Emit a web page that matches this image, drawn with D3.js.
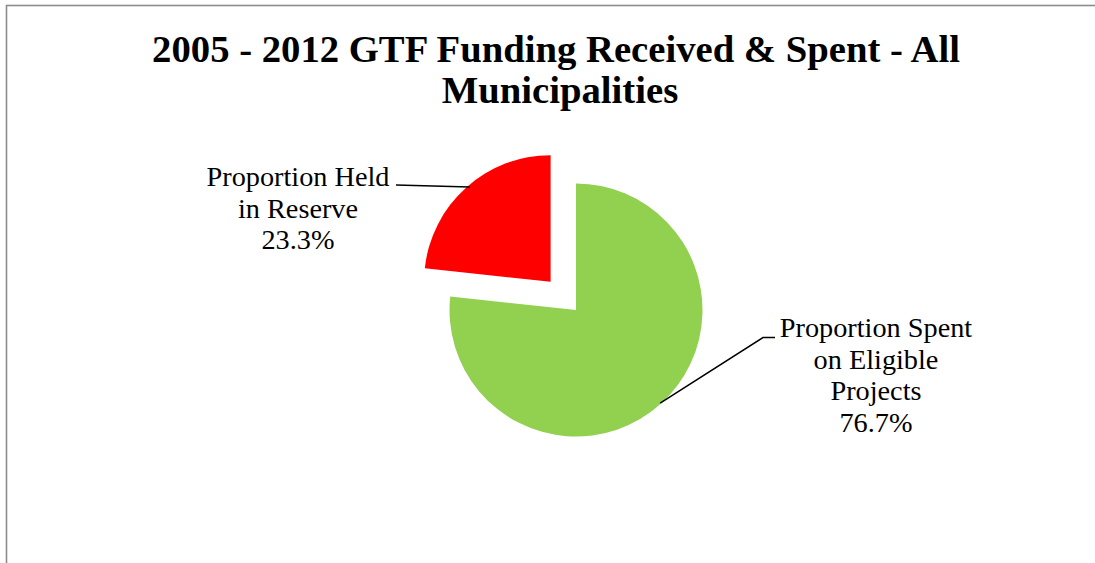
<!DOCTYPE html>
<html><head><meta charset="utf-8">
<script src="https://cdn.jsdelivr.net/npm/d3@7"></script>
<style>body{margin:0;background:#fff}svg{display:block}</style>
</head><body>
<svg id="c" width="1095" height="563"></svg>
<script>
const categories = ["Proportion Held in Reserve", "Proportion Spent on Eligible Projects"];
const values = [23.3, 76.7];
const labelLines = [["Proportion Held", "in Reserve", "23.3%"], ["Proportion Spent", "on Eligible", "Projects", "76.7%"]];
const colors = ["#FF0000", "#92D050"];
const titleLines = ["2005 - 2012 GTF Funding Received & Spent - All", "Municipalities"];

const svg = d3.select("#c");
const font = "'Liberation Serif', 'DejaVu Serif', serif";

// chart frame
svg.append("rect").attr("x", 6.5).attr("y", 5.5).attr("width", 1200).attr("height", 700)
  .attr("fill", "#fff").attr("stroke", "#8c8c8c").attr("stroke-width", 1.6);

// title
function fitText(sel, target) {
  const w = sel.node().getComputedTextLength();
  const fs = +sel.attr("font-size");
  sel.attr("font-size", fs * target / w);
}
const t1 = svg.append("text").attr("x", 556).attr("y", 62).attr("text-anchor", "middle")
  .attr("font-family", font).attr("font-weight", "bold").attr("font-size", 36).text(titleLines[0]);
fitText(t1, 808);
svg.append("text").attr("x", 560).attr("y", 103).attr("text-anchor", "middle")
  .attr("font-family", font).attr("font-weight", "bold").attr("font-size", +t1.attr("font-size")).text(titleLines[1]);

// pie
const cx = 576, cy = 310, R = 126.5, explode = 38;
const total = d3.sum(values);
const start = -2 * Math.PI * values[0] / total;
const pie = d3.pie().sort(null).startAngle(start).endAngle(start + 2 * Math.PI);
const arcs = pie(values);
const arc = d3.arc().innerRadius(0).outerRadius(R);
const g = svg.append("g").attr("transform", `translate(${cx},${cy})`);
g.selectAll("path").data(arcs).join("path")
  .attr("d", arc)
  .attr("fill", (d, i) => colors[i])
  .attr("transform", (d, i) => {
    if (i !== 0) return null;
    const m = (d.startAngle + d.endAngle) / 2;
    return `translate(${Math.sin(m) * explode},${-Math.cos(m) * explode})`;
  });

// labels
const lineH = 31.6;
const labelFs = 24;
function drawLabel(lines, x, yFirst) {
  const t = svg.append("text").attr("font-family", font).attr("font-size", labelFs)
    .attr("text-anchor", "middle").attr("fill", "#000");
  lines.forEach((l, i) => t.append("tspan").attr("x", x).attr("y", yFirst + i * lineH).text(l));
  return t;
}
const l0 = drawLabel(labelLines[0], 298, 186);
const l1 = drawLabel(labelLines[1], 876, 337);
const tsp0 = l0.select("tspan").node().getComputedTextLength();
const sc = 183 / tsp0;
l0.attr("font-size", labelFs * sc);
l1.attr("font-size", labelFs * sc);

// leader lines
const a0 = arcs[0], m0 = (a0.startAngle + a0.endAngle) / 2;
const ox = Math.sin(m0) * explode, oy = -Math.cos(m0) * explode;
const yA = 187 - (cy + oy);
const angA = Math.asin(Math.max(-1, Math.min(1, yA / R)));
const pA = [cx + ox - Math.cos(angA) * R + 3, 187];
svg.append("path").attr("d", `M396,185 L${pA[0]},${pA[1]}`)
  .attr("stroke", "#000").attr("stroke-width", 1.5).attr("fill", "none");
const angB = Math.PI * 2 * 0.383; // clockwise from north
const pB = [cx + Math.sin(angB) * (R - 1), cy - Math.cos(angB) * (R - 1)];
svg.append("path").attr("d", `M${pB[0]},${pB[1]} L763,337.5 L775,337.5`)
  .attr("stroke", "#000").attr("stroke-width", 1.5).attr("fill", "none");
</script>
</body></html>
